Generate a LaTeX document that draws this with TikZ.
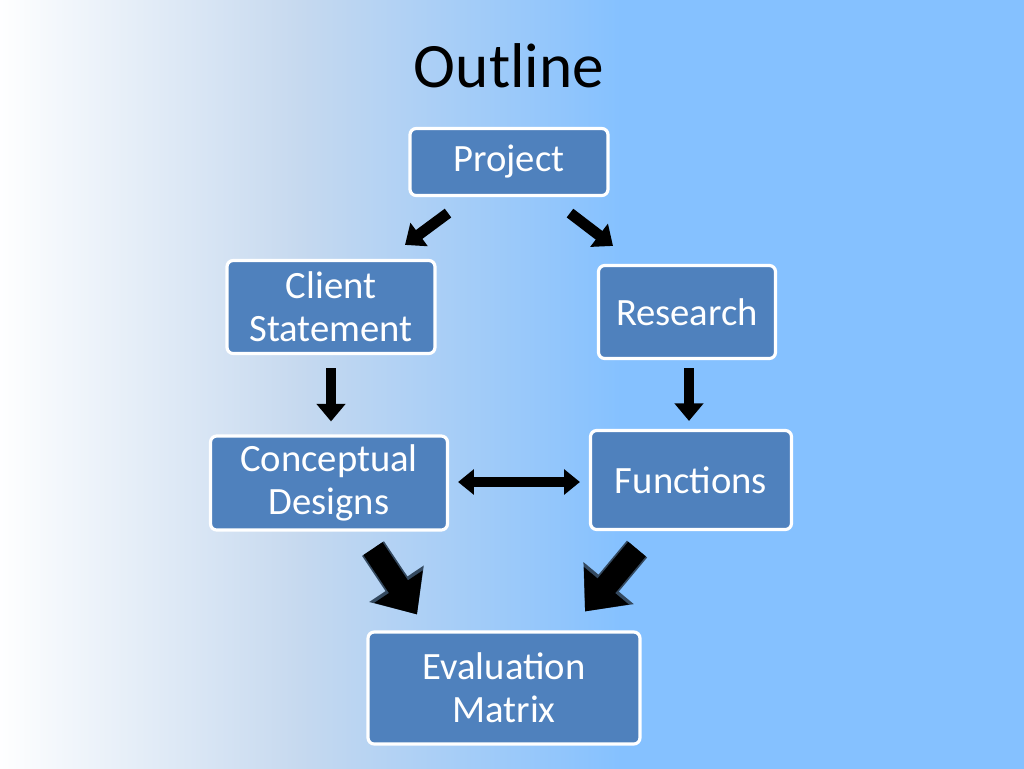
\documentclass[tikz,border=0pt]{standalone}
\usepackage{fontspec}
\setmainfont{Carlito}
\usetikzlibrary{positioning}
\usetikzlibrary{arrows.meta}
\usetikzlibrary{calc}

\definecolor{boxblue}{HTML}{4F81BD}
\definecolor{skyblue}{HTML}{85C1FF}
\definecolor{paleblue}{HTML}{C6D9EF}
\definecolor{slate}{HTML}{34495F}

\tikzset{
  stepbox/.style={rectangle, rounded corners=3.5pt, fill=boxblue, draw=white,
    line width=1.8pt, text=white, align=center, inner sep=0pt,
    font=\fontsize{22}{24.5}\selectfont},
  thinarrow/.style={line width=6.2pt, -{Triangle[length=10pt,width=16pt]}},
  dblarrow/.style={line width=6pt, {Triangle[length=9pt,width=14pt]}-{Triangle[length=9pt,width=14pt]}},
  bigarrow/.style={line width=13pt, -{Triangle[length=19pt,width=32pt]},
    preaction={draw=slate, line width=15pt, -{Triangle[length=21pt,width=36pt]}}}
}

\begin{document}
\begin{tikzpicture}[x=0.02cm, y=-0.02cm]
			% Background
			\useasboundingbox (0,0) rectangle (1024,768);
			\shade[left color=white, right color=paleblue] (-5,-5) rectangle (300,775);
			\shade[left color=paleblue, right color=skyblue] (299,-5) rectangle (621,775);
			\fill[skyblue] (620,-5) rectangle (1030,775);

			% Title
			\node[font=\fontsize{36}{40}\selectfont] (title) at (509,66) {Outline};

			% Define the boxes
			\node[stepbox, minimum width=3.96cm, minimum height=1.34cm] (proj) at (509,162) {Project};
			\node[stepbox, minimum width=4.16cm, minimum height=1.86cm] (cli) at (331,307) {Client\\Statement};
			\node[stepbox, minimum width=3.54cm, minimum height=1.86cm] (res) at (687,312) {Research};
			\node[stepbox, minimum width=4.74cm, minimum height=1.88cm] (cd) at (329,483) {Conceptual\\Designs};
			\node[stepbox, minimum width=4.02cm, minimum height=1.98cm] (fun) at (691,480) {Functions};
			\node[stepbox, minimum width=5.44cm, minimum height=2.24cm] (em) at (504,688) {Evaluation\\Matrix};

			% Draw the arrows
			\draw[thinarrow] ($(proj.south)+(-61,16)$) -- ($(cli.north)+(74,-14)$);
			\draw[thinarrow] ($(proj.south)+(61,16)$) -- ($(res.north)+(-74,-18)$);
			\draw[thinarrow] ($(cli.south)+(0,13)$) -- ($(cd.north)+(2,-13)$);
			\draw[thinarrow] ($(res.south)+(2,8)$) -- ($(fun.north)+(-2,-8)$);
			\draw[dblarrow] ($(cd.east)+(9,-1)$) -- ($(fun.west)+(-9,2)$);
			\draw[bigarrow] ($(cd.south)+(44,17)$) -- ($(em.north)+(-87,-16)$);
			\draw[bigarrow] ($(fun.south)+(-54,18)$) -- ($(em.north)+(81,-19)$);
\end{tikzpicture}
\end{document}
